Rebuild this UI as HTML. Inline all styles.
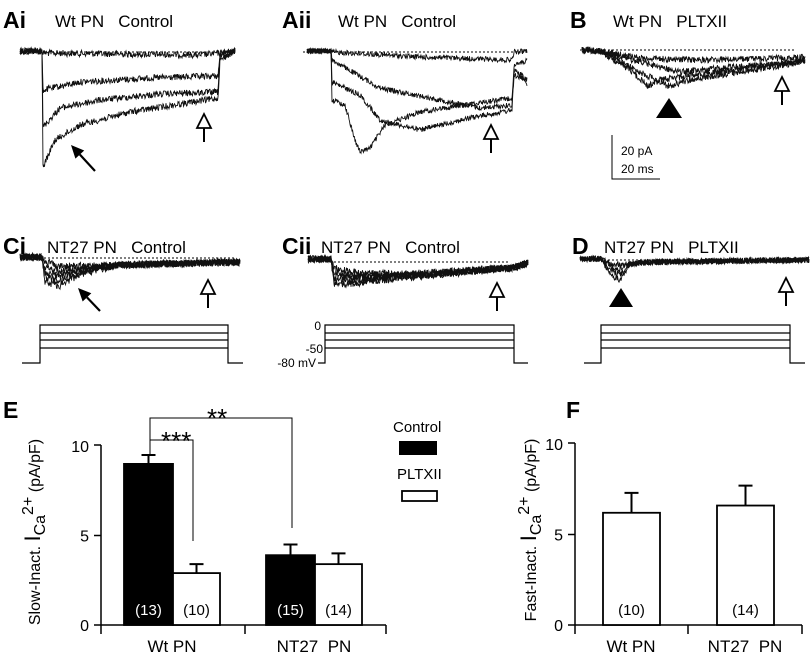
<!DOCTYPE html>
<html><head><meta charset="utf-8"><style>
html,body{margin:0;padding:0;background:#fff;}
svg{display:block;font-family:"Liberation Sans",sans-serif;}
text{white-space:pre;}
</style></head><body>
<svg id="fig" width="812" height="659" viewBox="0 0 812 659" xmlns="http://www.w3.org/2000/svg">
<g id="traces"></g>
<g id="ann"></g>
<g id="chartE"></g>
<g id="chartF"></g>
</svg>
<script>
// ---- Chart data ----
const eCategories = ["Wt PN", "NT27  PN"];
const eControl = [9.0, 3.9];
const eControlErr = [0.5, 0.6];
const ePltx = [2.9, 3.4];
const ePltxErr = [0.5, 0.6];
const eControlN = ["(13)", "(15)"];
const ePltxN = ["(10)", "(14)"];
const fCategories = ["Wt PN", "NT27  PN"];
const fValues = [6.2, 6.6];
const fErr = [1.1, 1.1];
const fN = ["(10)", "(14)"];
const yTicks = [0, 5, 10];

const NS = "http://www.w3.org/2000/svg";
function mk(parent, tag, attrs, text) {
  const el = document.createElementNS(NS, tag);
  for (const k in attrs) el.setAttribute(k, attrs[k]);
  if (text !== undefined) el.textContent = text;
  parent.appendChild(el);
  return el;
}
// seeded noise for trace texture
let seed = 12345;
function rnd() { seed = (seed * 1103515245 + 12345) % 2147483648; return seed / 2147483648 - 0.5; }
function interp(kp, x) {
  if (x <= kp[0][0]) return kp[0][1];
  for (let i = 1; i < kp.length; i++) {
    if (x <= kp[i][0]) { const a = kp[i-1], b = kp[i]; return a[1] + (b[1]-a[1])*(x-a[0])/(b[0]-a[0]); }
  }
  return kp[kp.length-1][1];
}
const T = document.getElementById('traces');
function trace(kp, x0, x1, amp) {
  let pts = [];
  for (let x = x0; x <= x1; x += 0.5) pts.push(x.toFixed(1) + "," + (interp(kp, x) + rnd()*amp*2).toFixed(1));
  const p = mk(T, 'polyline', {points: pts.join(" "), fill: "none", stroke: "#111", "stroke-width": 0.9});
  
  
}
function dashed(x0, x1, y) {
  const l = mk(T, 'line', {x1: x0, x2: x1, y1: y, y2: y, stroke: "#000", "stroke-width": 1, "stroke-dasharray": "2,2"});
  
  
}
// Ai
dashed(40, 225, 52);
trace([[20,51],[42,51],[43,53],[200,55],[219,53],[235,51]], 20, 235, 3.2);
trace([[20,51],[42,51],[43,90],[80,82],[150,78],[218,76],[220,55],[235,51]], 20, 235, 3.2);
trace([[20,51],[42,51],[43,127],[60,108],[100,100],[160,94],[218,92],[220,55],[235,51]], 20, 235, 3.2);
trace([[20,51],[42,51],[43,167],[55,140],[80,125],[130,112],[218,98],[220,60],[235,51]], 20, 235, 3.2);
// Aii
dashed(303, 518, 52);
trace([[307,51],[331,51],[332,52],[420,57],[512,60],[514,52],[527,51]], 307, 527, 2.6);
trace([[307,51],[331,51],[332,60],[380,88],[440,100],[480,108],[512,105],[514,70],[522,75],[527,85]], 307, 527, 2.6);
trace([[307,51],[331,51],[332,82],[360,95],[380,120],[420,130],[470,118],[512,110],[514,75],[527,80]], 307, 527, 2.6);
trace([[307,51],[331,51],[332,100],[345,105],[355,140],[360,152],[370,148],[385,125],[420,112],[470,104],[512,98],[514,66],[527,60]], 307, 527, 2.6);
// B
dashed(580, 795, 50);
trace([[582,50],[600,51],[640,58],[700,60],[795,58],[805,57]], 582, 805, 3.2);
trace([[582,50],[600,51],[630,70],[648,86],[660,80],[700,74],[795,62],[805,60]], 582, 805, 3.2);
trace([[582,50],[600,51],[640,72],[668,86],[690,80],[740,72],[795,63],[805,60]], 582, 805, 3.2);
trace([[582,50],[600,51],[640,62],[680,72],[720,68],[795,63],[805,60]], 582, 805, 3.2);
// Ci
dashed(40, 236, 258);
for (let k = 0; k < 5; k++) trace([[20,257],[42,257],[45,262+k*5],[60,266+k*5],[80,266+k*2],[120,265],[240,262]], 20, 240, 3.6);
// Cii
dashed(330, 510, 262);
for (let k = 0; k < 5; k++) trace([[308,259],[331,259],[334,268+k*4],[350,272+k*3],[400,274+k],[512,268],[528,263]], 308, 528, 3.6);
// D
dashed(600, 800, 260);
for (let k = 0; k < 4; k++) trace([[580,259],[601,259],[610,263+k*4],[620,265+k*5],[630,264],[650,262],[809,260]], 580, 809, 3);

// ---- annotations ----
const A = document.getElementById('ann');
function label(x, y, txt, size, bold, name, anchor) {
  const t = mk(A, 'text', {x: x, y: y, "font-size": size, "font-weight": bold ? "bold" : "normal", "text-anchor": anchor || "start", fill: "#000"}, txt);
  
  
  return t;
}
label(3, 28, "Ai", 23, true, "panel-label-ai");
label(55, 27, "Wt PN   Control", 17, false, "panel-title-ai");
label(282, 28, "Aii", 23, true, "panel-label-aii");
label(338, 27, "Wt PN   Control", 17, false, "panel-title-aii");
label(570, 28, "B", 23, true, "panel-label-b");
label(326, 27, "", 17, false, "spacer");
label(613, 27, "Wt PN   PLTXII", 17, false, "panel-title-b");
label(3, 254, "Ci", 23, true, "panel-label-ci");
label(47, 253, "NT27 PN   Control", 17, false, "panel-title-ci");
label(282, 254, "Cii", 23, true, "panel-label-cii");
label(321, 253, "NT27 PN   Control", 17, false, "panel-title-cii");
label(572, 254, "D", 23, true, "panel-label-d");
label(604, 253, "NT27 PN   PLTXII", 17, false, "panel-title-d");
label(3, 418, "E", 23, true, "panel-label-e");
label(566, 418, "F", 23, true, "panel-label-f");

function openArrow(x, yTop, name) {
  const g = mk(A, 'g', {});
  
  
  mk(g, 'polygon', {points: `${x},${yTop} ${x-7},${yTop+14} ${x+7},${yTop+14}`, fill: "#fff", stroke: "#000", "stroke-width": 1.8});
  mk(g, 'line', {x1: x, x2: x, y1: yTop+14, y2: yTop+28, stroke: "#000", "stroke-width": 2});
}
openArrow(204, 114, "open-arrow-ai");
openArrow(491, 125, "open-arrow-aii");
openArrow(782, 77, "open-arrow-b");
openArrow(208, 280, "open-arrow-ci");
openArrow(497, 283, "open-arrow-cii");
openArrow(786, 278, "open-arrow-d");
function blackArrow(x1, y1, x2, y2, name) {
  const g = mk(A, 'g', {});
  
  
  const ang = Math.atan2(y2-y1, x2-x1), L = 13, W = 6;
  const bx = x2 - L*Math.cos(ang), by = y2 - L*Math.sin(ang);
  mk(g, 'line', {x1: x1, y1: y1, x2: bx, y2: by, stroke: "#000", "stroke-width": 2.2});
  mk(g, 'polygon', {points: `${x2},${y2} ${bx + W*Math.sin(ang)},${by - W*Math.cos(ang)} ${bx - W*Math.sin(ang)},${by + W*Math.cos(ang)}`, fill: "#000"});
}
blackArrow(95, 171, 71, 145, "solid-arrow-ai");
blackArrow(100, 311, 78, 288, "solid-arrow-ci");
function tri(x, y, w, h, name) {
  const p = mk(A, 'polygon', {points: `${x},${y} ${x-w/2},${y+h} ${x+w/2},${y+h}`, fill: "#000"});
  
  
}
tri(669, 98, 26, 20, "filled-triangle-b");
tri(621, 288, 24, 19, "filled-triangle-d");
// scale bar
const sb = mk(A, 'path', {d: "M612,135 V179 H660", fill: "none", stroke: "#000", "stroke-width": 1});


label(621, 155, "20 pA", 12, false, "scale-bar-pa");
label(621, 173, "20 ms", 12, false, "scale-bar-ms");
// voltage protocols
function protocol(x0, xs, xe, x1, name) {
  const g = mk(A, 'g', {fill: "none", stroke: "#000", "stroke-width": 1.2});
  
  
  mk(g, 'path', {d: `M${x0},363 H${xs} V325 H${xe} V363 H${x1}`});
  [333, 340, 348].forEach(y => mk(g, 'line', {x1: xs, x2: xe, y1: y, y2: y}));
}
protocol(22, 40, 228, 243, "voltage-protocol-ci");
protocol(318, 325, 514, 528, "voltage-protocol-cii");
protocol(584, 601, 790, 805, "voltage-protocol-d");
label(321, 330, "0", 12, false, "protocol-label-0", "end");
label(323, 353, "-50", 12, false, "protocol-label-50", "end");
label(316, 367, "-80 mV", 12, false, "protocol-label-80", "end");

// ---- bar charts ----
function barChart(gid, axX, axRight, midTick, y0px, unitPx, groups) {
  const G = document.getElementById(gid);
  const y = v => y0px - v*unitPx;
  const ax = mk(G, 'path', {d: `M${axX},${y(10)-1} H${axX-7} M${axX},${y(10)-1} V${y0px} M${axX},${y(5)} H${axX-7} M${axX-7},${y0px} H${axRight} M${axX},${y0px} V${y0px+9} M${midTick},${y0px} V${y0px+9} M${axRight},${y0px} V${y0px+9}`, fill: "none", stroke: "#000", "stroke-width": 1.5});
  
  
  yTicks.forEach(t => {
    const tl = mk(G, 'text', {x: axX-12, y: y(t)+6, "font-size": 16, "text-anchor": "end"}, String(t));
    
    
  });
  groups.forEach(b => {
    const r = mk(G, 'rect', {x: b.x, y: y(b.v), width: b.w, height: y0px - y(b.v), fill: b.fill, stroke: "#000", "stroke-width": 1.8});
    
    
    const cx = b.x + b.w/2;
    const e = mk(G, 'path', {d: `M${cx},${y(b.v)} V${y(b.v+b.e)} M${cx-7},${y(b.v+b.e)} H${cx+7}`, stroke: "#000", "stroke-width": 2, fill: "none"});
    
    
    const n = mk(G, 'text', {x: cx, y: y0px-10, "font-size": 15, "text-anchor": "middle", fill: b.fill === "#000" ? "#fff" : "#000"}, b.n);
    
    
  });
  return {G, y};
}
const E = barChart('chartE', 101, 386, 245, 625, 17.9, [
  {x: 124, w: 49, v: eControl[0], e: eControlErr[0], fill: "#000", n: eControlN[0], name: "bar-wt-control"},
  {x: 173, w: 47, v: ePltx[0], e: ePltxErr[0], fill: "#fff", n: ePltxN[0], name: "bar-wt-pltxii"},
  {x: 266, w: 49, v: eControl[1], e: eControlErr[1], fill: "#000", n: eControlN[1], name: "bar-nt27-control"},
  {x: 315, w: 47, v: ePltx[1], e: ePltxErr[1], fill: "#fff", n: ePltxN[1], name: "bar-nt27-pltxii"}
]);
const F = barChart('chartF', 575, 802, 688, 625, 18.1, [
  {x: 603, w: 57, v: fValues[0], e: fErr[0], fill: "#fff", n: fN[0], name: "bar-wt-fast"},
  {x: 717, w: 57, v: fValues[1], e: fErr[1], fill: "#fff", n: fN[1], name: "bar-nt27-fast"}
]);
function xlab(G, x, txt) {
  const t = mk(G, 'text', {x: x, y: 652, "font-size": 17, "text-anchor": "middle"}, txt);
  
  
}
xlab(E.G, 172, eCategories[0]); xlab(E.G, 314, eCategories[1]);
xlab(F.G, 631, fCategories[0]); xlab(F.G, 745, fCategories[1]);
function ylab(G, cx, cy, first) {
  const t = mk(G, 'text', {x: 0, y: 0, "font-size": 16, "text-anchor": "middle", transform: `translate(${cx},${cy}) rotate(-90)`});
  
  
  mk(t, 'tspan', {}, first + " ");
  mk(t, 'tspan', {"font-size": 22}, "I");
  mk(t, 'tspan', {dy: 5}, "Ca");
  mk(t, 'tspan', {dy: -12}, "2+");
  mk(t, 'tspan', {dy: 7}, " (pA/pF)");
}
ylab(E.G, 40, 532, "Slow-Inact.");
ylab(F.G, 536, 530, "Fast-Inact.");
// significance brackets
const br = mk(E.G, 'path', {d: "M150,456 V418 H292 V528 M150,440 H193 V541", fill: "none", stroke: "#000", "stroke-width": 1});


const s1 = mk(E.G, 'text', {x: 161, y: 450, "font-size": 26}, "***");


const s2 = mk(E.G, 'text', {x: 207, y: 427, "font-size": 26}, "**");


// legend
const lg = mk(E.G, 'g', {});


const l1 = mk(lg, 'text', {x: 393, y: 432, "font-size": 15}, "Control");


const r1 = mk(lg, 'rect', {x: 399, y: 441, width: 38, height: 14, fill: "#000"});


const l2 = mk(lg, 'text', {x: 397, y: 479, "font-size": 15}, "PLTXII");


const r2 = mk(lg, 'rect', {x: 402, y: 491, width: 35, height: 10, fill: "#fff", stroke: "#000", "stroke-width": 1.8});


</script>
</body></html>
